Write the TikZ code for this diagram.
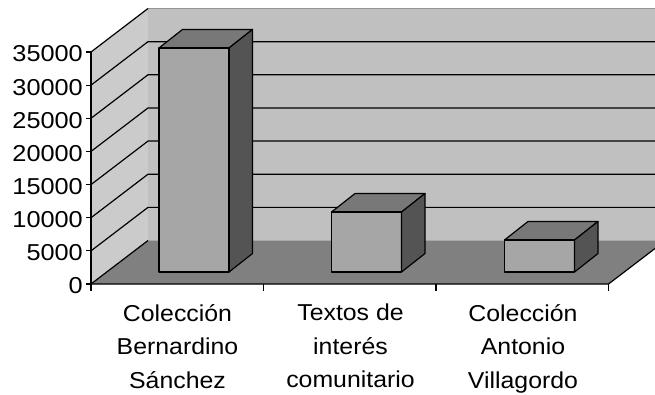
\documentclass[tikz,border=0pt]{standalone}
\usepackage{fontspec}
\usepackage{graphicx}
\usepackage{tikz}
\usetikzlibrary{calc}
\setmainfont{Liberation Sans}
\definecolor{wallback}{RGB}{192,192,192}
\definecolor{wallleft}{RGB}{203,203,203}
\definecolor{walledge}{RGB}{150,150,150}
\definecolor{floorgray}{RGB}{128,128,128}
\definecolor{barfront}{RGB}{166,166,166}
\definecolor{bartop}{RGB}{120,120,120}
\definecolor{barside}{RGB}{84,84,84}
\newcommand{\chartfont}{\fontsize{23}{33.5}\selectfont}
\newcommand{\wtxt}[2][1.08]{\scalebox{#1}[1]{#2}}

\begin{document}
\begin{tikzpicture}[
  x=1pt, y=-1pt,
  gridline/.style={black, line width=1.2pt},
  axisline/.style={black, line width=1.2pt},
  barface/.style={draw=black, line width=1.2pt, line join=round},
  ylab/.style={anchor=east, inner sep=0pt, font=\chartfont},
  catlab/.style={anchor=north, inner sep=0pt, align=center, font=\chartfont}
]
\useasboundingbox (0,0) rectangle (655,394);
\clip (0,0) rectangle (655,394);

%% Walls and floor
\fill[wallleft]  (91,52) -- (148,8.5) -- (148,240.5) -- (91,284) -- cycle;
\fill[wallback]  (148,8.5) rectangle (665.5,240.5);
\fill[floorgray] (91,284) -- (148,240.5) -- (665.5,240.5) -- (608.5,284) -- cycle;
\draw[walledge, line width=0.8pt] (148,8.5) -- (665.5,8.5);

%% Grid lines (left wall + back wall)
\foreach \v in {1,...,6}{
  \pgfmathsetmacro{\yf}{284-33.14*\v}
  \draw[gridline] (91,\yf) -- (148,\yf-43.5) -- (665.5,\yf-43.5);
}
\draw[gridline] (91,52) -- (148,8.5);
\draw[gridline] (91,284) -- (148,240.5);

%% Value axis with ticks and labels
\draw[axisline] (91,52) -- (91,284);
\foreach \v/\lab in {0/0,1/5000,2/10000,3/15000,4/20000,5/25000,6/30000,7/35000}{
  \pgfmathsetmacro{\yf}{284-33.14*\v}
  \draw[axisline] (86,\yf) -- (91,\yf);
  \node[ylab] (y\v) at (83,\yf+2) {\wtxt[1.1]{\lab}};
}

%% Category axis
\draw[axisline] (91,284) -- (608.5,284) -- (665.5,240.5);
\foreach \i in {0,...,3}{
  \draw[axisline] (91+172.5*\i,284) -- (91+172.5*\i,291);
}

%% Bars (front centre / value in thousands)
\foreach \c/\v in {194/33.8, 366.5/9.05, 539.5/4.83}{
  \pgfmathsetmacro{\xa}{\c-35}
  \pgfmathsetmacro{\xb}{\c+35}
  \pgfmathsetmacro{\yt}{272-\v/5*33.14}
  \fill[barfront] (\xa,\yt) rectangle (\xb,272);
  \draw[barface, fill=bartop]  (\xa,\yt) -- (\xa+23.5,\yt-18.5) -- (\xb+23.5,\yt-18.5) -- (\xb,\yt) -- cycle;
  \draw[barface, fill=barside] (\xb,\yt) -- (\xb+23.5,\yt-18.5) -- (\xb+23.5,253.5) -- (\xb,272) -- cycle;
  \draw[barface] (\xa,\yt) rectangle (\xb,272);
}

%% Category labels
\node[catlab] (cat1) at (177.5,304) {\wtxt{Colección}\\\wtxt{Bernardino}\\\wtxt{Sánchez}};
\node[catlab] (cat2) at (350.5,304) {\wtxt{Textos de}\\\wtxt{interés}\\\wtxt{comunitario}};
\node[catlab] (cat3) at (523,304)   {\wtxt{Colección}\\\wtxt{Antonio}\\\wtxt{Villagordo}};

\end{tikzpicture}
\end{document}
